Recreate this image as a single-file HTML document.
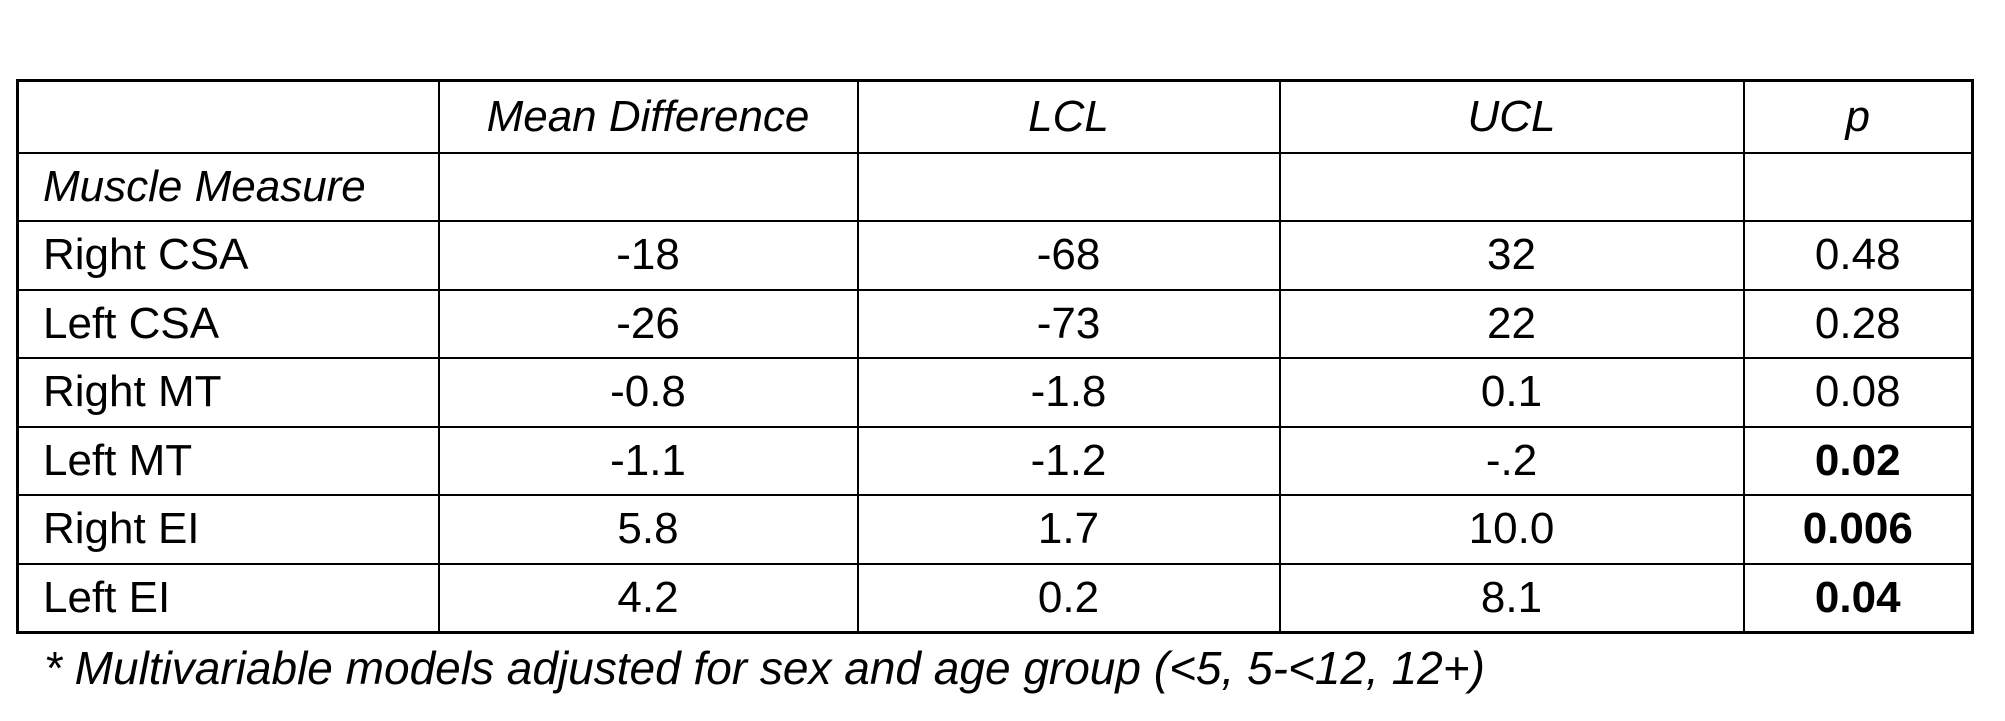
<!DOCTYPE html>
<html><head><meta charset="utf-8"><style>
html,body{margin:0;padding:0;background:#fff;width:2005px;height:721px;overflow:hidden}
body{font-family:"Liberation Sans",sans-serif;color:#000;position:relative}
table{position:absolute;left:16px;top:79px;border-collapse:collapse;table-layout:fixed}
td{border:2px solid #000;font-size:44px;text-align:center;padding:0;height:68.5px;box-sizing:border-box;white-space:nowrap}
td.l{text-align:left;padding-left:24px}
tr.h td{height:72px}
.i{font-style:italic}
.b{font-weight:bold}
#note{position:absolute;left:44px;top:641px;font-size:46px;font-style:italic;white-space:nowrap}
</style></head><body>
<table style="width:1955px;border:3px solid #000">
<colgroup><col style="width:421px"><col style="width:419px"><col style="width:422px"><col style="width:464px"><col style="width:229px"></colgroup>
<tr class="h"><td></td><td class="i">Mean Difference</td><td class="i">LCL</td><td class="i">UCL</td><td class="i">p</td></tr>
<tr><td class="l i">Muscle Measure</td><td></td><td></td><td></td><td></td></tr>
<tr><td class="l">Right CSA</td><td>-18</td><td>-68</td><td>32</td><td>0.48</td></tr>
<tr><td class="l">Left CSA</td><td>-26</td><td>-73</td><td>22</td><td>0.28</td></tr>
<tr><td class="l">Right MT</td><td>-0.8</td><td>-1.8</td><td>0.1</td><td>0.08</td></tr>
<tr><td class="l">Left MT</td><td>-1.1</td><td>-1.2</td><td>-.2</td><td class="b">0.02</td></tr>
<tr><td class="l">Right EI</td><td>5.8</td><td>1.7</td><td>10.0</td><td class="b">0.006</td></tr>
<tr><td class="l">Left EI</td><td>4.2</td><td>0.2</td><td>8.1</td><td class="b">0.04</td></tr>
</table>
<div id="note">* Multivariable models adjusted for sex and age group (&lt;5, 5-&lt;12, 12+)</div>
</body></html>
